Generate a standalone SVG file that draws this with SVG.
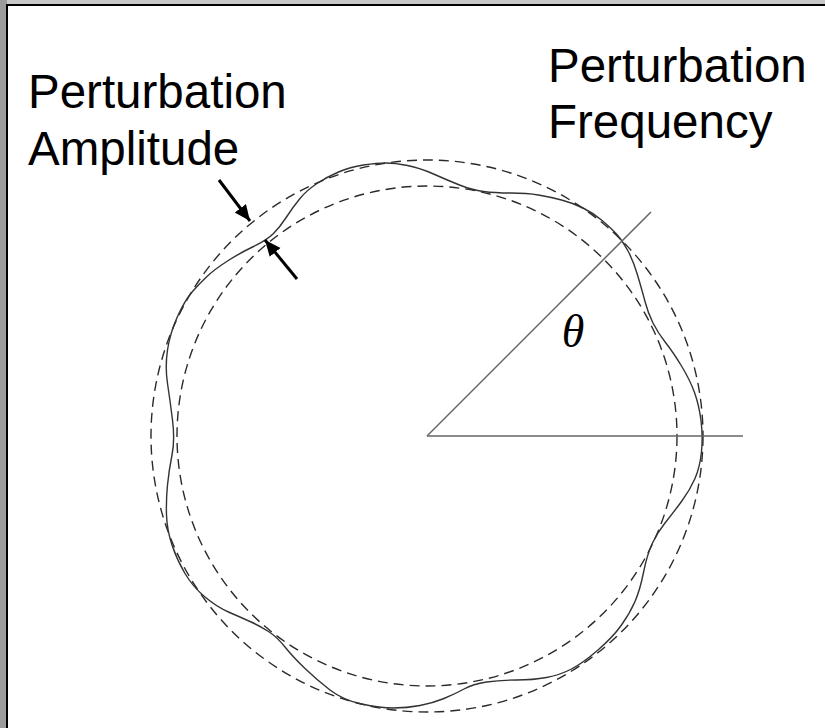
<svg xmlns="http://www.w3.org/2000/svg" width="825" height="728" viewBox="0 0 825 728">
<style>
.lbl{font-family:"Liberation Sans",Arial,sans-serif;font-size:47.5px;fill:#000}
.dash{fill:none;stroke:#2a2a2a;stroke-width:1.4;stroke-dasharray:10 6}
.axis{stroke:#666;stroke-width:1.5;fill:none}
.arr{stroke:#000;stroke-width:3;fill:none}
</style>
<defs>
<marker id="ah" markerUnits="userSpaceOnUse" markerWidth="18" markerHeight="16" refX="16" refY="7" orient="auto">
<path d="M0,0 L16,7 L0,14 Z" fill="#000"/>
</marker>
</defs>
<rect x="0" y="0" width="825" height="728" fill="#c8c8c8"/>
<rect x="0" y="0" width="7" height="728" fill="#9c9c9c"/>
<rect x="7" y="5" width="830" height="740" fill="#fff" stroke="#000" stroke-width="2"/>
<g id="reference-circles">
<circle class="dash" cx="427" cy="436" r="276"/>
<circle class="dash" cx="427" cy="436" r="250"/>
</g>
<g id="perturbed-circle">
<path fill="none" stroke="#333" stroke-width="1.4" d="M701,420.5 Q703,436 701.5,451.5 Q700,467 695,478.5 Q690,490 681.5,501.5 Q673,513 665,523 Q657,533 652,544 Q647,555 643.5,572.5 Q640,590 635,601.5 Q630,613 621.5,625 Q613,637 598,650 Q583,663 571.5,669 Q560,675 546.5,677.5 Q533,680 516.5,680 Q500,680 486.5,682 Q473,684 464,689 Q455,694 444,698.5 Q433,703 420,705.5 Q407,708 393.5,708 Q380,708 361.5,704 Q343,700 330,690 Q317,680 305,668.5 Q293,657 285,647 Q277,637 268.5,631.5 Q260,626 250,621.5 Q240,617 228.5,612 Q217,607 205,597 Q193,587 185,573.5 Q177,560 172,545 Q167,530 166.5,515 Q166,500 167.5,485 Q169,470 172,455 Q175,440 172.5,420 Q170,400 167.5,383.5 Q165,367 167.5,350 Q170,333 177.5,316.5 Q185,300 192.5,291.5 Q200,283 207.5,276 Q215,269 227.5,261 Q240,253 253.5,246.5 Q267,240 273.5,233.5 Q280,227 286.5,217 Q293,207 300,198.5 Q307,190 317,183.5 Q327,177 338.5,172 Q350,167 363.5,165 Q377,163 386,163 Q395,163 407.5,165.5 Q420,168 433.5,174 Q447,180 459.5,185 Q472,190 483.5,191.5 Q495,193 511,193 Q527,193 538.5,195 Q550,197 561.5,200 Q573,203 583,208 Q593,213 601.5,220 Q610,227 616,233.5 Q622,240 627.5,250 Q633,260 637.5,275 Q642,290 645,301.5 Q648,313 653,323 Q658,333 665.5,342.5 Q673,352 681.5,366 Q690,380 694.5,392.5 Q699,405 701,420.5 Z"/>
</g>
<g id="angle">
<line class="axis" x1="427" y1="436" x2="743" y2="436"/>
<line class="axis" x1="427" y1="436" x2="651" y2="212"/>
<text x="573" y="347" text-anchor="middle" font-family="'Liberation Serif','DejaVu Serif',serif" font-style="italic" font-size="46">θ</text>
</g>
<g id="connectors">
<line class="arr" x1="219" y1="180" x2="250" y2="221" marker-end="url(#ah)"/>
<line class="arr" x1="297" y1="279" x2="265" y2="240" marker-end="url(#ah)"/>
</g>
<g id="label-amplitude">
<text class="lbl" x="28" y="108">Perturbation</text>
<text class="lbl" x="28" y="165">Amplitude</text>
</g>
<g id="label-frequency">
<text class="lbl" x="548" y="82">Perturbation</text>
<text class="lbl" x="548" y="138">Frequency</text>
</g>
</svg>
